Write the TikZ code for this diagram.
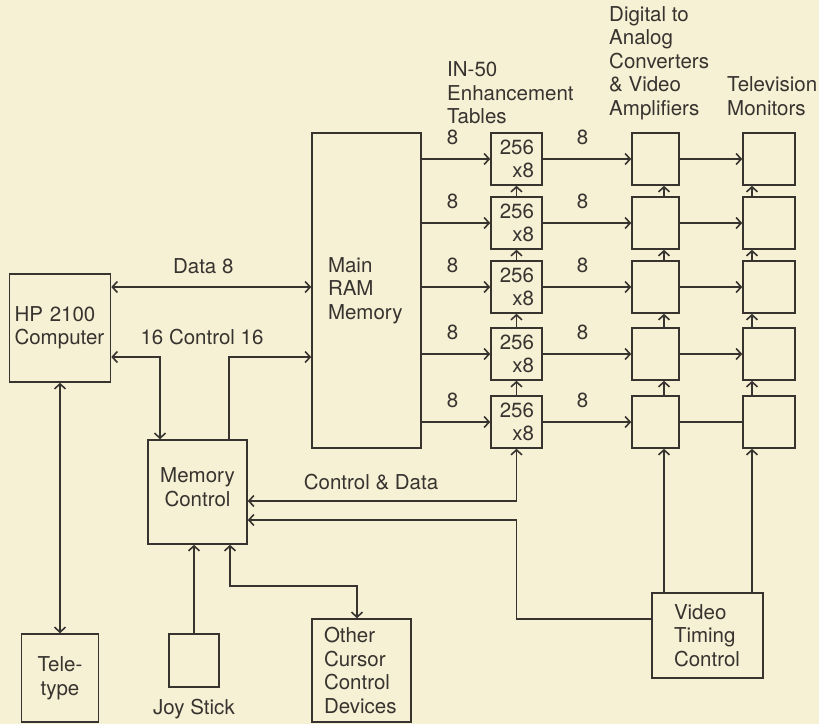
\documentclass[tikz,border=0pt]{standalone}
\usepackage{fontspec}
\setmainfont{TeX Gyre Heros}
\usetikzlibrary{arrows.meta,positioning}
\definecolor{paper}{RGB}{246,240,212}
\definecolor{ink}{RGB}{55,51,47}
\tikzset{unit/.style={draw=ink,line width=1.6pt,inner sep=0pt}}
\tikzset{one/.style={draw=ink,line width=1.6pt,->}}
\tikzset{both/.style={draw=ink,line width=1.6pt,<->}}
\tikzset{plain/.style={draw=ink,line width=1.6pt}}

\begin{document}
\begin{tikzpicture}[%
        x=1pt, y=-1pt,
        >={Straight Barb[length=5pt,width=11pt]},
        every node/.style={
            font=\fontsize{20.5}{23.5}\selectfont,
            text=ink,
            inner sep=1pt,
        },
    ]
    % paper
    \fill[paper] (0,0) rectangle (819,724);
    \useasboundingbox (0,0) rectangle (819,724);

    % place the main units
    \node[unit,minimum width=101pt,minimum height=108pt,text width=91pt,align=left] (hp) at (60,328) {HP 2100\\Computer};
    \node[unit,minimum width=109pt,minimum height=315pt,text width=77pt,align=left] (ram) at (366.5,290.5) {Main\\RAM\\Memory};
    \node[unit,minimum width=99pt,minimum height=104pt,align=center] (mc) at (197.5,492) {Memory\\Control\\[-13.5pt]};
    \node[unit,minimum width=77pt,minimum height=88pt,align=center] (tty) at (60,678) {Tele-\\type};
    \node[unit,minimum width=50pt,minimum height=53pt] (joy) at (194,660.5) {};
    \node[below=10pt of joy] (joylbl) {Joy Stick};
    \node[unit,minimum width=99pt,minimum height=103pt,text width=75pt,align=left] (ocd) at (361.5,670.5) {Other\\Cursor\\Control\\Devices};
    \node[unit,minimum width=111pt,minimum height=85pt,text width=67pt,align=left] (vtc) at (707.5,635.5) {Video\\Timing\\Control};

    % column headings
    \node[anchor=west,align=left] (enh) at (446,93) {IN-50\\Enhancement\\Tables};
    \node[anchor=west,align=left] (dac) at (608,63) {Digital to\\Analog\\Converters\\\& Video\\Amplifiers};
    \node[anchor=west,align=left] (tv) at (726,96) {Television\\Monitors};

    % tables, converters and monitors
    \foreach \i/\y in {1/159,2/223,3/287,4/354,5/422}{
        \node[unit,minimum width=51pt,minimum height=52pt,text width=35pt,align=right] (t\i) at (516.5,\y) {256\\x8};
        \node[unit,minimum width=47pt,minimum height=52pt] (d\i) at (655.5,\y) {};
        \node[unit,minimum width=52pt,minimum height=52pt] (m\i) at (769,\y) {};
    }

    % computer buses
    \coordinate (dat) at ([yshift=41pt]hp.east);
    \draw[both] (dat) -- (dat -| ram.west) node[pos=0.46,above=11pt] {Data 8};
    \draw[both] ([yshift=-29pt]hp.east) -| ([xshift=-37.5pt]mc.north);
    \node (ctl) at (202,337) {16 Control 16};
    \draw[one] ([xshift=31.5pt]mc.north) |- ([yshift=-66.5pt]ram.west);
    \draw[both] (hp.south) -- (tty.north);

    % video channels
    \foreach \i in {1,...,5}{
        \draw[one] (ram.east |- t\i) -- (t\i) node[pos=0.45,above=12pt] {8};
        \draw[one] (t\i) -- (d\i) node[pos=0.45,above=12pt] {8};
    }
    \foreach \i in {1,...,4}{
        \draw[one] (d\i) -- (m\i);
    }
    \draw[plain] (d5) -- (m5);

    % chains between the rows
    \foreach \i/\j in {1/2,2/3,3/4,4/5}{
        \draw[one] (t\j) -- (t\i);
        \draw[one] ([xshift=8.5pt]d\j.north) -- ([xshift=8.5pt]d\i.south);
        \draw[one] ([xshift=-17pt]m\j.north) -- ([xshift=-17pt]m\i.south);
    }

    % memory control links
    \draw[both] (t5.south) |- ([yshift=-9pt]mc.east);
    \node (cd) at (371,482) {Control \& Data};
    \coordinate (mcin) at ([yshift=-28pt]mc.east);
    \draw[one] ([yshift=16.5pt]vtc.west) -| (t5.south |- mcin) -- (mcin);
    \draw[one] (joy.north) -- (joy.north |- mc.south);
    \draw[both] ([xshift=32.5pt]mc.south) -- ++(0,41) -| ([xshift=-4.5pt]ocd.north);

    % timing to converters and monitors
    \coordinate (dacin) at ([xshift=8.5pt]d5.south);
    \coordinate (tvin) at ([xshift=-17pt]m5.south);
    \draw[one] (vtc.north -| dacin) -- (dacin);
    \draw[one] (vtc.north -| tvin) -- (tvin);

\end{tikzpicture}
\end{document}
